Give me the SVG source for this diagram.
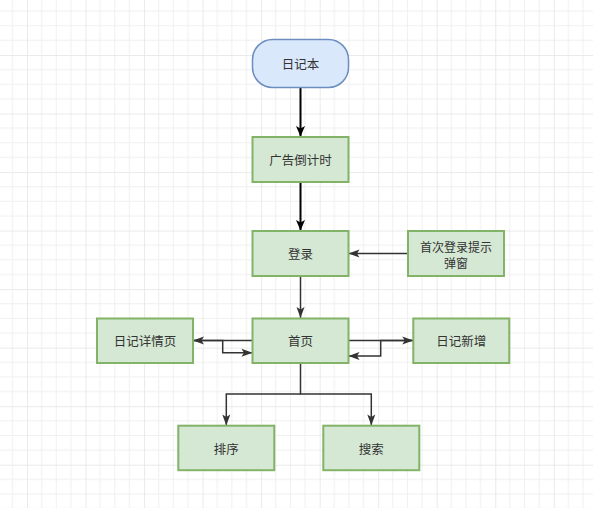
<svg xmlns="http://www.w3.org/2000/svg" width="593" height="508" viewBox="0 0 593 508">
<style>
.node{fill:#d5e8d4;stroke:#82b366;stroke-width:2}
.start{fill:#dae8fc;stroke:#6c8ebf;stroke-width:1.5}
.lbl{font-family:"Noto Sans CJK SC","Noto Sans",sans-serif;font-size:12.5px;fill:#333333;text-anchor:middle;dominant-baseline:central}
.sm{font-size:12px}
.e1{fill:none;stroke:#000000;stroke-width:2}
.e2{fill:none;stroke:#333333;stroke-width:1.5}
.minor{stroke:#f0f0f0;stroke-width:1}
.major{stroke:#e4e4e4;stroke-width:1.5}
</style>
<defs>
<pattern id="grid" patternUnits="userSpaceOnUse" x="27" y="55" width="58.53" height="58.53">
<path class="minor" d="M14.63,0V58.53M29.27,0V58.53M43.9,0V58.53M0,14.63H58.53M0,29.27H58.53M0,43.9H58.53"/>
<path class="major" d="M0,0V58.53M0,0H58.53"/>
</pattern>
<marker id="ab" markerUnits="userSpaceOnUse" markerWidth="13" markerHeight="11" refX="11.5" refY="5.5" orient="auto">
<path d="M1,1 L11.5,5.5 L1,10 L3.5,5.5 Z" fill="#000000"/>
</marker>
<marker id="ag" markerUnits="userSpaceOnUse" markerWidth="13" markerHeight="10" refX="12" refY="5" orient="auto">
<path d="M1,1 L12,5 L1,9 L3.5,5 Z" fill="#333333"/>
</marker>
</defs>
<rect width="593" height="508" fill="#ffffff"/>
<rect width="593" height="508" fill="url(#grid)"/>
<g id="connectors">
<path class="e1" d="M300.5,88 V136.5" marker-end="url(#ab)"/>
<path class="e1" d="M300.5,182.5 V230.5" marker-end="url(#ab)"/>
<path class="e2" d="M408,253.5 H348.5" marker-end="url(#ag)"/>
<path class="e2" d="M300.5,276 V318" marker-end="url(#ag)"/>
<path class="e2" d="M252.5,340.5 H193" marker-end="url(#ag)"/>
<path class="e2" d="M193,340.5 H222.7 V352.7 H252.5" marker-end="url(#ag)"/>
<path class="e2" d="M348.5,340.5 H413.3" marker-end="url(#ag)"/>
<path class="e2" d="M413.3,340.5 H380.7 V356 H348.5" marker-end="url(#ag)"/>
<path class="e2" d="M300.5,363 V394 H226.3 V425.5" marker-end="url(#ag)"/>
<path class="e2" d="M300.5,394 H371.3 V425.5" marker-end="url(#ag)"/>
</g>
<g id="n-diary">
<rect class="start" x="252.5" y="39.5" width="96" height="48" rx="20" ry="20"/>
<text class="lbl" x="300.5" y="63.5">日记本</text>
</g>
<g id="n-ad">
<rect class="node" x="252.5" y="137" width="96" height="45"/>
<text class="lbl" x="300.5" y="159.5">广告倒计时</text>
</g>
<g id="n-login">
<rect class="node" x="252.5" y="231" width="96" height="45"/>
<text class="lbl" x="300.5" y="253.5">登录</text>
</g>
<g id="n-popup">
<rect class="node" x="408" y="231" width="96" height="45"/>
<text class="lbl sm"><tspan x="456" y="245.5">首次登录提示</tspan><tspan x="456" y="262">弹窗</tspan></text>
</g>
<g id="n-detail">
<rect class="node" x="97" y="318.5" width="96" height="44.5"/>
<text class="lbl" x="145" y="340.5">日记详情页</text>
</g>
<g id="n-home">
<rect class="node" x="252.5" y="318.5" width="96" height="44.5"/>
<text class="lbl" x="300.5" y="340.5">首页</text>
</g>
<g id="n-add">
<rect class="node" x="413.3" y="318.5" width="96" height="44.5"/>
<text class="lbl" x="461.3" y="340.5">日记新增</text>
</g>
<g id="n-sort">
<rect class="node" x="178.3" y="425.7" width="96" height="44.5"/>
<text class="lbl" x="226.3" y="448">排序</text>
</g>
<g id="n-search">
<rect class="node" x="323.3" y="425.7" width="96" height="44.5"/>
<text class="lbl" x="371.3" y="448">搜索</text>
</g>
</svg>
